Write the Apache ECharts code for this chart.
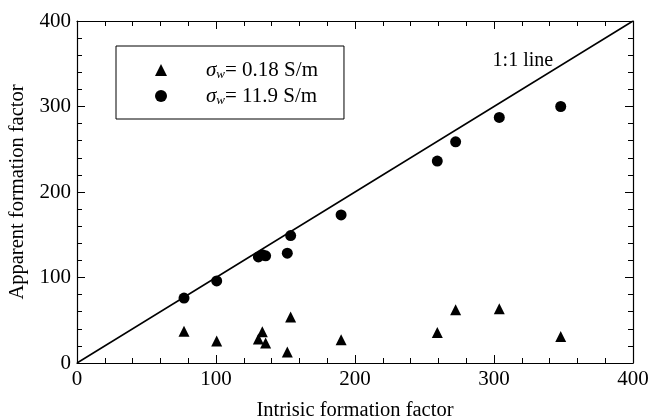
<!DOCTYPE html>
<html style="height: 100%">
<head>
    <meta charset="utf-8">
</head>
<body style="height: 100%; margin: 0; background: #fff">
<div id="container" style="width: 649px; height: 420px"></div>
<script src="https://cdn.jsdelivr.net/npm/echarts@6/dist/echarts.min.js"></script>
<script type="text/javascript">
    // intrinsic vs apparent formation factor
    var lowSalX = [77, 100.5, 130.5, 133.3, 135.7, 151.3, 153.7, 190, 259.2, 272.4, 303.8, 348];
    var lowSalY = [37, 25.7, 28, 36.5, 23.3, 12.8, 53.7, 27.2, 35.7, 62.2, 63.4, 31];
    var highSalX = [77, 100.5, 130.5, 133.3, 135.7, 151.3, 153.7, 190, 259.2, 272.4, 303.8, 348];
    var highSalY = [76, 96, 124, 126.5, 125.3, 128.4, 149, 173.2, 236.2, 258.7, 287.2, 300];
    var oneToOne = [[0, 0], [400, 400]];
    var seriesNames = ['low', 'high'];

    function pairs(xs, ys) {
        var out = [];
        for (var i = 0; i < xs.length; i++) out.push([xs[i], ys[i]]);
        return out;
    }

    var font = 'Liberation Serif';
    var axisLine = {onZero: false, lineStyle: {color: '#000', width: 1.2}};

    function axis(extra) {
        var a = {
            type: 'value', min: 0, max: 400, interval: 100,
            axisLine: axisLine,
            axisTick: {show: true, inside: true, length: 8, lineStyle: {color: '#000', width: 1}},
            minorTick: {show: true, splitNumber: 5, length: 5, lineStyle: {color: '#000', width: 1}},
            splitLine: {show: false},
            axisLabel: {color: '#000', fontFamily: font, fontSize: 21, margin: 6}
        };
        for (var k in extra) a[k] = extra[k];
        return a;
    }

    var dom = document.getElementById("container");
    var myChart = echarts.init(dom);

    var legendRich = {
        i: {fontFamily: font, fontSize: 21, lineHeight: 22, fontStyle: 'italic', color: '#000'},
        s: {fontFamily: font, fontSize: 13, lineHeight: 13, fontStyle: 'italic', color: '#000', verticalAlign: 'bottom'},
        t: {fontFamily: font, fontSize: 21, lineHeight: 22, color: '#000'}
    };

    var option = {
        animation: false,
        grid: {left: 77, right: 16, top: 21, bottom: 57, containLabel: false, outerBoundsMode: 'none'},
        legend: {
            orient: 'vertical', left: 116, top: 46,
            padding: [13, 26, 12, 39],
            itemGap: 4, itemWidth: 12, itemHeight: 12,
            borderColor: '#000', borderWidth: 1,
            data: [{name: 'low', icon: 'triangle'}, {name: 'high', icon: 'circle'}],
            formatter: function (name) {
                return name === 'low' ? '{i|σ}{s|w}{t|= 0.18 S/m}' : '{i|σ}{s|w}{t|= 11.9 S/m}';
            },
            textStyle: {padding: [0, 0, 0, 34], lineHeight: 22, rich: legendRich}
        },
        xAxis: [
            axis({position: 'bottom', name: 'Intrisic formation factor', nameLocation: 'middle', nameGap: 37,
                nameTextStyle: {color: '#000', fontFamily: font, fontSize: 20.5}}),
            axis({position: 'top', axisLabel: {show: false}})
        ],
        yAxis: [
            axis({position: 'left', name: 'Apparent formation factor', nameLocation: 'middle', nameGap: 47,
                nameTextStyle: {color: '#000', fontFamily: font, fontSize: 20.5}}),
            axis({position: 'right', axisLabel: {show: false}})
        ],
        series: [
            {
                name: seriesNames[0], type: 'scatter', symbol: 'triangle', symbolSize: 11,
                itemStyle: {color: '#000', opacity: 1}, data: pairs(lowSalX, lowSalY)
            },
            {
                name: seriesNames[1], type: 'scatter', symbol: 'circle', symbolSize: 11,
                itemStyle: {color: '#000', opacity: 1}, data: pairs(highSalX, highSalY)
            },
            {
                type: 'line', data: oneToOne, symbol: 'none', silent: true,
                lineStyle: {color: '#000', width: 1.5}
            },
            {
                type: 'scatter', symbolSize: 0, silent: true, data: [[299, 354]],
                itemStyle: {opacity: 1},
                label: {show: true, position: 'right', distance: 0, formatter: '1:1 line',
                    color: '#000', fontFamily: font, fontSize: 20}
            }
        ]
    };
    myChart.setOption(option);
</script>
</body>
</html>
